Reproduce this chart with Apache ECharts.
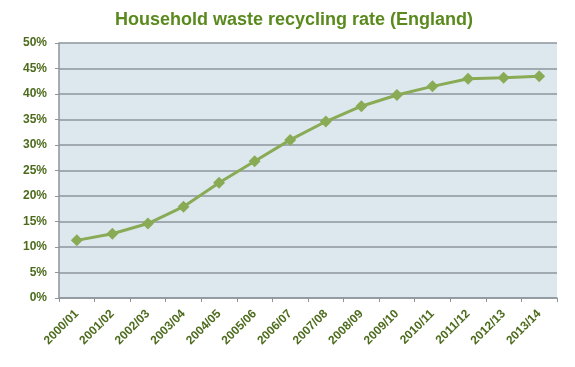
<!DOCTYPE html>
<html><head><meta charset="utf-8">
<script src="https://cdn.jsdelivr.net/npm/echarts@6/dist/echarts.min.js"></script>
<style>html,body{margin:0;padding:0;background:#fff}#c{width:575px;height:367px}</style>
</head><body><div id="c"></div>
<script>
const categories = ['2000/01','2001/02','2002/03','2003/04','2004/05','2005/06','2006/07','2007/08','2008/09','2009/10','2010/11','2011/12','2012/13','2013/14'];
const recyclingRate = [11.3, 12.6, 14.6, 17.9, 22.6, 26.8, 31.0, 34.6, 37.6, 39.8, 41.5, 43.0, 43.2, 43.5];
const yTicks = [0, 5, 10, 15, 20, 25, 30, 35, 40, 45, 50];
const titleText = 'Household waste recycling rate (England)';

const font = "'Liberation Sans','Open Sans',sans-serif";
const chart = echarts.init(document.getElementById('c'));
chart.setOption({
  backgroundColor: '#fff',
  graphic: [{
    type: 'text', x: 294, y: 20,
    style: {text: titleText, align: 'center', verticalAlign: 'middle',
      font: "bold 18px 'Liberation Sans', sans-serif", fill: '#5a8a1e'}
  }],
  grid: {left: 59, right: 18, top: 43, bottom: 69, backgroundColor: '#dde8ee', show: true, borderWidth: 0},
  xAxis: {
    type: 'category', data: categories, boundaryGap: true,
    axisLine: {lineStyle: {color: '#8c969c', width: 1.5}},
    axisTick: {show: true, length: 4, lineStyle: {color: '#8c969c'}},
    axisLabel: {rotate: 45, fontFamily: font, fontSize: 12, fontWeight: 'bold', color: '#4d6b1c', margin: 14, interval: 0}
  },
  yAxis: {
    type: 'value', min: yTicks[0], max: yTicks[yTicks.length-1], interval: 5,
    axisLine: {show: true, lineStyle: {color: '#8c969c', width: 1.5}},
    axisTick: {show: true, length: 4, lineStyle: {color: '#8c969c'}},
    splitLine: {lineStyle: {color: '#8c969c', width: 1.5}},
    axisLabel: {formatter: v => v + '%', fontFamily: font, fontSize: 12, fontWeight: 'bold', color: '#4d6b1c', margin: 12}
  },
  series: [{
    type: 'line', data: recyclingRate, symbol: 'diamond', symbolSize: 12,
    lineStyle: {color: '#8aab55', width: 3},
    itemStyle: {color: '#8aab55'}
  }]
});
</script></body></html>
